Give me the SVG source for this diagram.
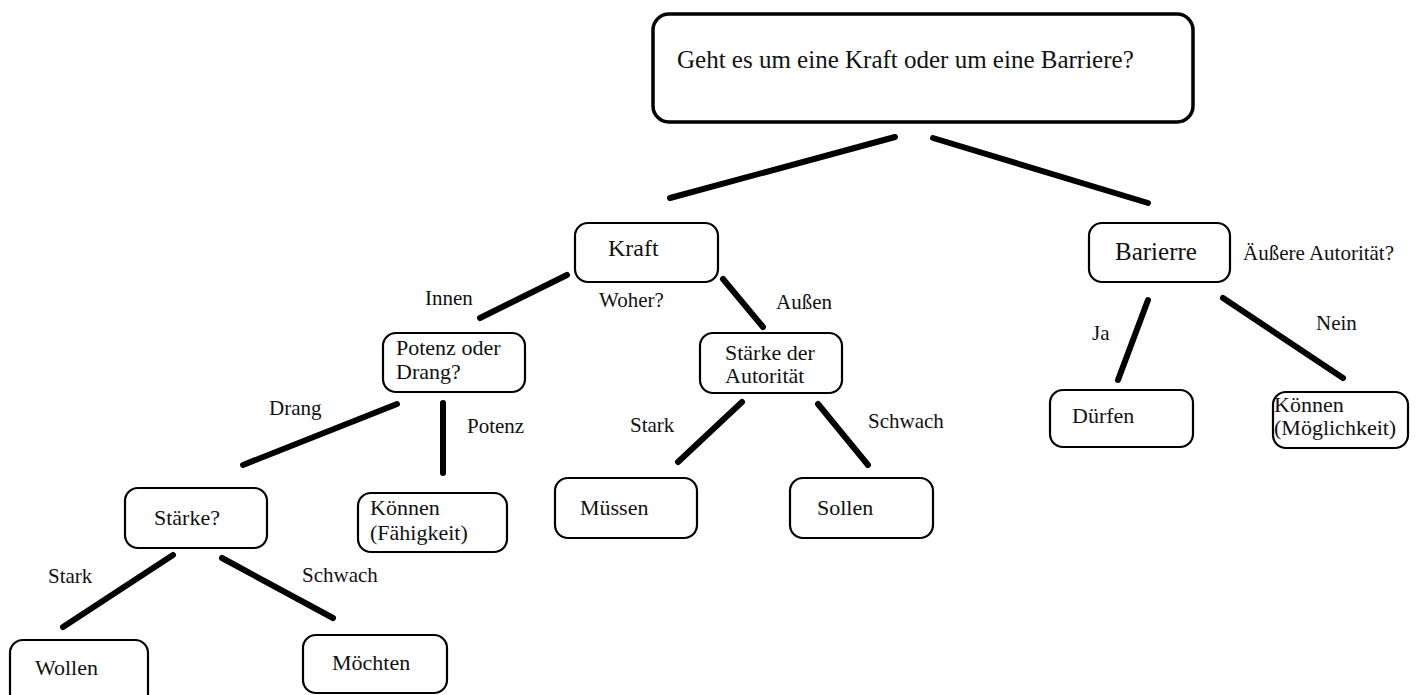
<svg xmlns="http://www.w3.org/2000/svg" width="1424" height="695" viewBox="0 0 1424 695">
<style>
.box{fill:#fff;stroke:#000;stroke-width:2.2}
.top{fill:#fff;stroke:#000;stroke-width:3.5}
text{font-family:'Liberation Serif','Tinos','Times New Roman','DejaVu Serif',serif;fill:#111}
.t{font-size:22px}
.big{font-size:24px}
.huge{font-size:25px}
.lab{font-size:21px}
#connectors line{stroke:#000;stroke-width:6;stroke-linecap:round}
</style>
<rect width="1424" height="695" fill="#fff"/>
<g id="connectors">
<line x1="670" y1="198" x2="895" y2="137"/>
<line x1="933" y1="138" x2="1148" y2="203"/>
<line x1="567" y1="275" x2="480" y2="318"/>
<line x1="723" y1="279" x2="763" y2="327"/>
<line x1="1148" y1="300" x2="1118" y2="380"/>
<line x1="1223" y1="298" x2="1343" y2="378"/>
<line x1="397" y1="404" x2="243" y2="465"/>
<line x1="443" y1="403" x2="443" y2="473"/>
<line x1="742" y1="402" x2="678" y2="462"/>
<line x1="818" y1="404" x2="868" y2="465"/>
<line x1="173" y1="555" x2="63" y2="627"/>
<line x1="222" y1="558" x2="333" y2="618"/>
</g>
<g id="labels">
<text class="lab" x="425" y="305">Innen</text>
<text class="lab" x="599" y="307">Woher?</text>
<text class="lab" x="776" y="309">Außen</text>
<text class="lab" x="1243" y="260">Äußere Autorität?</text>
<text class="lab" x="1092" y="340">Ja</text>
<text class="lab" x="1316" y="330">Nein</text>
<text class="lab" x="269" y="415">Drang</text>
<text class="lab" x="467" y="433">Potenz</text>
<text class="lab" x="630" y="432">Stark</text>
<text class="lab" x="868" y="428">Schwach</text>
<text class="lab" x="48" y="583">Stark</text>
<text class="lab" x="302" y="582">Schwach</text>
</g>
<g id="n-root">
<rect class="top" x="653" y="14" width="540" height="108" rx="16"/>
<text class="huge" x="677" y="68">Geht es um eine Kraft oder um eine Barriere?</text>
</g>
<g id="n-kraft">
<rect class="box" x="575" y="223" width="143" height="59" rx="13"/>
<text class="big" x="608" y="256">Kraft</text>
</g>
<g id="n-barierre">
<rect class="box" x="1089" y="223" width="141" height="59" rx="13"/>
<text class="huge" x="1115" y="260">Barierre</text>
</g>
<g id="n-potenz">
<rect class="box" x="383" y="333" width="142" height="59" rx="13"/>
<text class="t" x="396" y="355">Potenz oder</text>
<text class="t" x="396" y="379">Drang?</text>
</g>
<g id="n-staerke-autoritaet">
<rect class="box" x="700" y="333" width="142" height="60" rx="13"/>
<text class="t" x="725" y="360">Stärke der</text>
<text class="t" x="725" y="383">Autorität</text>
</g>
<g id="n-duerfen">
<rect class="box" x="1050" y="390" width="143" height="57" rx="13"/>
<text class="t" x="1072" y="423">Dürfen</text>
</g>
<g id="n-koennen-moeglichkeit">
<rect class="box" x="1273" y="392" width="135" height="56" rx="13"/>
<text class="t" x="1274" y="412">Können</text>
<text class="t" x="1274" y="435">(Möglichkeit)</text>
</g>
<g id="n-staerke">
<rect class="box" x="125" y="488" width="142" height="60" rx="13"/>
<text class="t" x="154" y="525">Stärke?</text>
</g>
<g id="n-koennen-faehigkeit">
<rect class="box" x="358" y="493" width="149" height="59" rx="13"/>
<text class="t" x="370" y="515">Können</text>
<text class="t" x="370" y="540">(Fähigkeit)</text>
</g>
<g id="n-muessen">
<rect class="box" x="555" y="478" width="142" height="60" rx="13"/>
<text class="t" x="580" y="515">Müssen</text>
</g>
<g id="n-sollen">
<rect class="box" x="790" y="478" width="143" height="60" rx="13"/>
<text class="t" x="817" y="515">Sollen</text>
</g>
<g id="n-wollen">
<rect class="box" x="10" y="640" width="138" height="70" rx="13"/>
<text class="t" x="35" y="675">Wollen</text>
</g>
<g id="n-moechten">
<rect class="box" x="303" y="635" width="144" height="58" rx="13"/>
<text class="t" x="332" y="670">Möchten</text>
</g>
</svg>
